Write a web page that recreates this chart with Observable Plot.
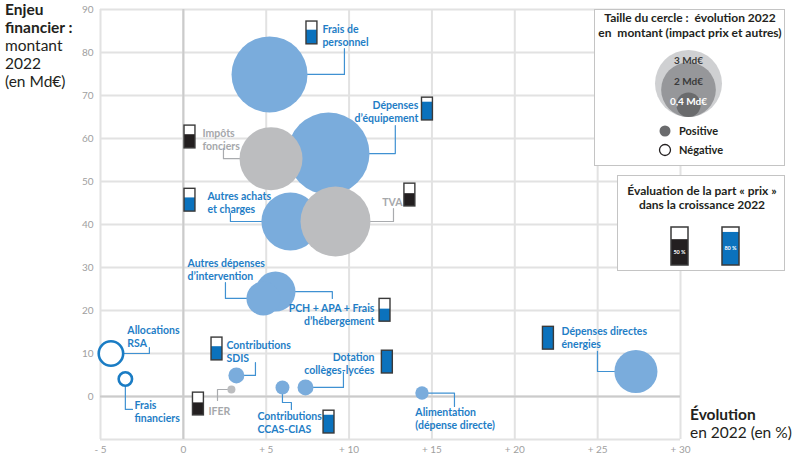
<!DOCTYPE html>
<html><head><meta charset="utf-8">
<script src="https://cdn.jsdelivr.net/npm/d3@7"></script>
<script src="https://cdn.jsdelivr.net/npm/@observablehq/plot@0.6"></script>
<style>
body{margin:0;background:#fff;font-family:Lato,"Open Sans",sans-serif;}
#wrap{position:relative;width:796px;height:457px;overflow:hidden;}
#wrap svg{position:absolute;left:0;top:0;}
.t{position:absolute;color:#231f20;font-size:15.5px;line-height:18px;white-space:nowrap;}
.t b{font-weight:700;}
</style></head><body><div id="wrap"></div>
<script>
// ---- data ----
const names = ["Frais de personnel","Dépenses d'équipement","Impôts fonciers","Autres achats et charges","TVA","Autres dépenses d'intervention","PCH + APA + Frais d'hébergement","Allocations RSA","Frais financiers","Contributions SDIS","IFER","Contributions CCAS-CIAS","Dotation collèges-lycées","Alimentation (dépense directe)","Dépenses directes énergies"];
const labels = ["Frais de\npersonnel","Dépenses\nd’équipement","Impôts\nfonciers","Autres achats\net charges","TVA","Autres dépenses\nd’intervention","PCH + APA + Frais\nd’hébergement","Allocations\nRSA","Frais\nfinanciers","Contributions\nSDIS","IFER","Contributions\nCCAS-CIAS","Dotation\ncollèges-lycées","Alimentation\n(dépense directe)","Dépenses directes\nénergies"];
const evolution = [5.2, 8.76, 5.29, 6.46, 9.18, 4.83, 5.56, -4.37, -3.5, 3.2, 2.9, 5.98, 7.37, 14.4, 27.31]; // % 2022
const amount = [74.9, 56.5, 55.3, 40.7, 40.7, 22.8, 24.4, 10.0, 4.07, 4.9, 1.63, 2.1, 2.1, 0.8, 5.81]; // Md€ 2022
const delta = [3.86, 4.49, 2.65, 2.25, 3.27, 0.77, 1.07, 0.40, 0.12, 0.17, 0.043, 0.13, 0.17, 0.12, 1.24]; // |évolution| Md€
const kind = ["dep","dep","rec","dep","rec","dep","dep","dep","dep","dep","rec","dep","dep","dep","dep"];
const negative = [false,false,false,false,false,false,false,true,true,false,false,false,false,false,false];
const priceShare = [0.62, 0.8, 0.6, 0.6, 0.56, null, 0.55, null, null, 0.6, 0.55, 0.8, 1, null, 1];
const xTicks = [-5, 0, 5, 10, 15, 20, 25, 30];
const yTicks = [0, 10, 20, 30, 40, 50, 60, 70, 80, 90];
const yGrid = [-10, 0, 10, 20, 30, 40, 50, 60, 70, 80, 90];
const sizeLegend = [3, 2, 0.4];
const sizeLegendLabels = ["3 Md€", "2 Md€", "0,4 Md€"];
const priceLegendLabels = ["50 %", "80 %"];
const priceLegendFill = [0.68, 0.87];

// ---- annotation layout (data units) ----
const labelX = [8.39, 14.18, 1.15, 1.45, 13.22, 0.25, 11.53, -3.38, -2.95, 2.60, 1.51, 4.47, 11.53, 14.0, 22.82];
const labelY = [86.7, 69.1, 62.6, 47.9, 46.5, 32.3, 21.9, 16.7, -0.7, 13.3, -2.1, -3.3, 10.5, -2.3, 16.5];
const labelAnchor = ["start","end","start","start","end","start","end","start","start","start","start","start","end","start","start"];
const gaugeX = [7.76, 14.73, 0.40, 0.40, 13.67, null, 12.17, null, null, 2.03, 0.91, 8.79, 12.31, null, 22.03];
const gaugeY = [81.9, 64.2, 57.7, 43.0, 44.2, null, 17.4, null, null, 8.4, -4.4, -8.6, 5.35, null, 10.9];
const leaders = [
 [[9.72,74.9],[9.72,80.9]],
 [[12.79,56.5],[12.79,63.0]],
 [[2.42,55.3],[2.42,57.7]],
 [[2.84,40.7],[2.84,42.6]],
 [[12.68,40.7],[12.68,43.7]],
 [[2.54,22.8],[2.54,26.5]],
 [[8.99,24.4],[8.99,22.8]],
 [[-2.05,10.0],[-2.05,11.4]],
 [[-3.5,-3.0],[-3.07,-3.0]],
 [[4.35,4.9],[4.35,7.9]],
 [[2.06,1.63],[2.06,-0.93]],
 [[5.98,-1.4],[6.52,-1.4],[6.52,-3.0]],
 [[9.66,2.1],[9.66,5.6]],
 [[16.36,0.8],[16.36,-2.3]],
 [[24.99,5.81],[24.99,10.5]]
];

const BLUE = "#7aacdc", GRAY = "#bcbdbf", TBLUE = "#1f7ec6", TGRAY = "#a6a8ab",
      LBLUE = "#3f91d2", LGRAY = "#a9abae", GBLUE = "#0b72bd", GDARK = "#231f20";
const GW = 0.33, GH = 5.3;

const rows = names.map((n, i) => ({
  name: n, label: labels[i], x: evolution[i], y: amount[i], d: delta[i], kind: kind[i],
  neg: negative[i], share: priceShare[i], lx: labelX[i], ly: labelY[i], anchor: labelAnchor[i],
  gx: gaugeX[i], gy: gaugeY[i],
  tcol: kind[i] === "dep" ? TBLUE : TGRAY
}));
const leaderPts = [];
rows.forEach((r, i) => {
  const col = r.kind === "dep" ? LBLUE : LGRAY;
  leaderPts.push({id: i, x: r.x, y: r.y, c: col});
  leaders[i].forEach(p => leaderPts.push({id: i, x: p[0], y: p[1], c: col}));
});
const gauges = rows.filter(r => r.share != null).map(r => ({
  x1: r.gx - GW, x2: r.gx + GW, y1: r.gy, y2: r.gy + GH, yf: r.gy + GH * r.share,
  c: r.kind === "dep" ? GBLUE : GDARK
}));
const FONT = "Lato, 'Open Sans', sans-serif";

const chart = Plot.plot({
  width: 796, height: 457,
  marginLeft: 100, marginRight: 116, marginTop: 9, marginBottom: 18,
  style: {fontFamily: FONT, fontSize: "10px", color: "#a0a0a0", background: "transparent"},
  x: {domain: [-5, 30], ticks: xTicks, tickSize: 0, tickPadding: 6, label: null,
      tickFormat: d => d === 0 ? "0" : (d > 0 ? "+ " + d : "- " + (-d))},
  y: {domain: [-10, 90], ticks: yTicks, tickSize: 0, tickPadding: 7, label: null},
  r: {type: "sqrt", domain: [0, 3], range: [0, 33.5]},
  color: {type: "identity"},
  marks: [
    Plot.ruleX(xTicks, {stroke: "#e2e2e2", strokeWidth: 2}),
    Plot.ruleY(yGrid, {stroke: "#e2e2e2", strokeWidth: 2}),
    Plot.ruleX([0], {stroke: "#cbcbcb", strokeWidth: 2}),
    Plot.ruleY([0], {stroke: "#cbcbcb", strokeWidth: 2}),
    Plot.line(leaderPts, {x: "x", y: "y", z: "id", stroke: "c", strokeWidth: 1.2}),
    Plot.dot(rows.filter(r => !r.neg && r.kind === "dep"), {x: "x", y: "y", r: "d", fill: BLUE}),
    Plot.dot(rows.filter(r => !r.neg && r.kind === "rec"), {x: "x", y: "y", r: "d", fill: GRAY}),
    Plot.dot(rows.filter(r => r.neg), {x: "x", y: "y", r: "d", fill: "white", stroke: "#1a7cc4", strokeWidth: 2.6}),
    Plot.rect(gauges, {x1: "x1", x2: "x2", y1: "y1", y2: "y2", fill: "white"}),
    Plot.rect(gauges, {x1: "x1", x2: "x2", y1: "y1", y2: "yf", fill: "c"}),
    Plot.rect(gauges, {x1: "x1", x2: "x2", y1: "y1", y2: "y2", fill: "none", stroke: "#3a3a3a", strokeWidth: 1.4}),
    Plot.text(rows.filter(r => r.anchor === "start"), {x: "lx", y: "ly", text: "label", fill: "tcol",
      textAnchor: "start", lineAnchor: "top", lineHeight: 1.25, fontSize: 10.5, fontWeight: 700}),
    Plot.text(rows.filter(r => r.anchor === "end"), {x: "lx", y: "ly", text: "label", fill: "tcol",
      textAnchor: "end", lineAnchor: "top", lineHeight: 1.25, fontSize: 10.5, fontWeight: 700})
  ]
});

const wrap = document.getElementById("wrap");
wrap.appendChild(chart);

// axis titles
const t1 = document.createElement("div");
t1.className = "t"; t1.style.left = "5px"; t1.style.top = "0px";
t1.innerHTML = "<b>Enjeu<br>financier :</b><br>montant<br>2022<br>(en Md€)";
wrap.appendChild(t1);
const t2 = document.createElement("div");
t2.className = "t"; t2.style.left = "690px"; t2.style.top = "405px";
t2.innerHTML = "<b>Évolution</b><br>en 2022 (en %)";
wrap.appendChild(t2);

// legends
const rs = chart.scale("r");
const rad = v => rs.apply(v);
const L = d3.select(wrap).append("svg").attr("width", 796).attr("height", 457)
  .style("font-family", FONT);
const title = (x, y, s) => L.append("text").attr("x", x).attr("y", y).attr("text-anchor", "middle")
  .attr("font-size", 12).attr("font-weight", 700).attr("fill", "#231f20")
  .style("white-space", "pre").text(s);
L.append("rect").attr("x", 594.5).attr("y", 9.5).attr("width", 190).attr("height", 156)
  .attr("fill", "white").attr("stroke", "#c4c4c4");
title(690, 22, "Taille du cercle :  évolution 2022");
title(690, 37, "en  montant (impact prix et autres)");
const lcol = ["#cfd0d2", "#96979a", "#6a6b6d"];
const lcx = 688.5, lbottom = 117;
sizeLegend.forEach((v, i) => {
  L.append("circle").attr("cx", lcx).attr("cy", lbottom - rad(v)).attr("r", rad(v)).attr("fill", lcol[i]);
});
const lty = [64, 85, 105];
sizeLegendLabels.forEach((s, i) => {
  L.append("text").attr("x", lcx).attr("y", lty[i]).attr("text-anchor", "middle")
    .attr("font-size", 10).attr("font-weight", 700).attr("fill", i === 2 ? "white" : "#3a3a3a").text(s);
});
L.append("circle").attr("cx", 665).attr("cy", 131).attr("r", 5.5).attr("fill", "#6a6b6d");
L.append("circle").attr("cx", 665).attr("cy", 150).attr("r", 5.5).attr("fill", "white").attr("stroke", "#231f20").attr("stroke-width", 1.3);
L.append("text").attr("x", 679).attr("y", 135).attr("font-size", 11).attr("font-weight", 700).attr("fill", "#231f20").text("Positive");
L.append("text").attr("x", 679).attr("y", 154).attr("font-size", 11).attr("font-weight", 700).attr("fill", "#231f20").text("Négative");

L.append("rect").attr("x", 617.5).attr("y", 175.5).attr("width", 167).attr("height", 95)
  .attr("fill", "white").attr("stroke", "#c4c4c4");
title(702, 195, "Évaluation de la part « prix »");
title(702, 209, "dans la croissance 2022");
const lgx = [671, 722], lgc = [GDARK, GBLUE];
priceLegendLabels.forEach((s, i) => {
  const x = lgx[i], y0 = 227, h = 38, w = 17, fh = h * priceLegendFill[i];
  L.append("rect").attr("x", x).attr("y", y0).attr("width", w).attr("height", h).attr("fill", "white");
  L.append("rect").attr("x", x).attr("y", y0 + h - fh).attr("width", w).attr("height", fh).attr("fill", lgc[i]);
  L.append("rect").attr("x", x).attr("y", y0).attr("width", w).attr("height", h).attr("fill", "none")
    .attr("stroke", "#3a3a3a").attr("stroke-width", 1.5);
  L.append("text").attr("x", x + w / 2).attr("y", y0 + h - fh / 2 + 2).attr("text-anchor", "middle")
    .attr("font-size", 5.5).attr("font-weight", 700).attr("fill", "white").text(s);
});
</script></body></html>
